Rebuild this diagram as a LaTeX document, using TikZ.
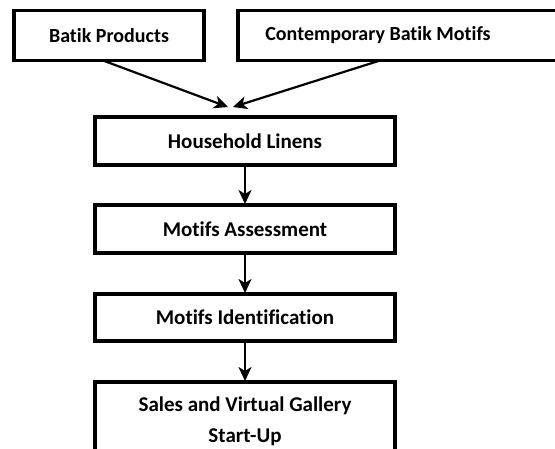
\documentclass[tikz,border=0pt]{standalone}
\usepackage{fontspec}
\setmainfont{Carlito}[Ligatures=CommonOff]
\usetikzlibrary{arrows.meta}
\begin{document}
\begin{tikzpicture}[x=1pt,y=-1pt,
  box/.style={draw=black, line width=3.2pt, fill=white, inner sep=0pt, outer sep=0pt,
    font=\fontsize{21}{31}\selectfont\bfseries, align=center},
  topbox/.style={box, font=\fontsize{20}{24}\selectfont\bfseries},
  conn/.style={line width=2.2pt, -{Stealth[length=14pt,width=13pt,inset=4pt]}},
  ]
\useasboundingbox (0,0) rectangle (555,448);
\begin{scope}
\clip (0,0) rectangle (555,448);
\node[topbox, minimum width=190pt, minimum height=50pt] (b1) at (109,35.5) {\raisebox{-1.5pt}{Batik Products}};
\node[topbox, minimum width=330pt, minimum height=50pt] (b2) at (403,35.5) {\hspace*{-50pt}\raisebox{-1.5pt}{Contemporary Batik Motifs}};
\node[box, minimum width=300pt, minimum height=48pt] (h1) at (245,141) {Household Linens};
\node[box, minimum width=300pt, minimum height=48pt] (h2) at (245,229) {Motifs Assessment};
\node[box, minimum width=300pt, minimum height=47pt] (h3) at (245,317.5) {Motifs Identification};
\node[box, minimum width=300pt, minimum height=78pt] (h4) at (245,421) {Sales and Virtual Gallery\\Start-Up};
\coordinate (t1) at (228,107);
\coordinate (t2) at (233,107);
\coordinate (s2) at ([xshift=-23pt]b2.south);
\draw[conn] (b1.south) ++(-6,0) -- (t1);
\draw[conn] (s2) -- (t2);
\draw[conn, shorten >=1pt] (h1.south) -- (h2.north);
\draw[conn, shorten >=1pt] (h2.south) -- (h3.north);
\draw[conn, shorten >=1pt] (h3.south) -- (h4.north);
\end{scope}
\end{tikzpicture}
\end{document}
